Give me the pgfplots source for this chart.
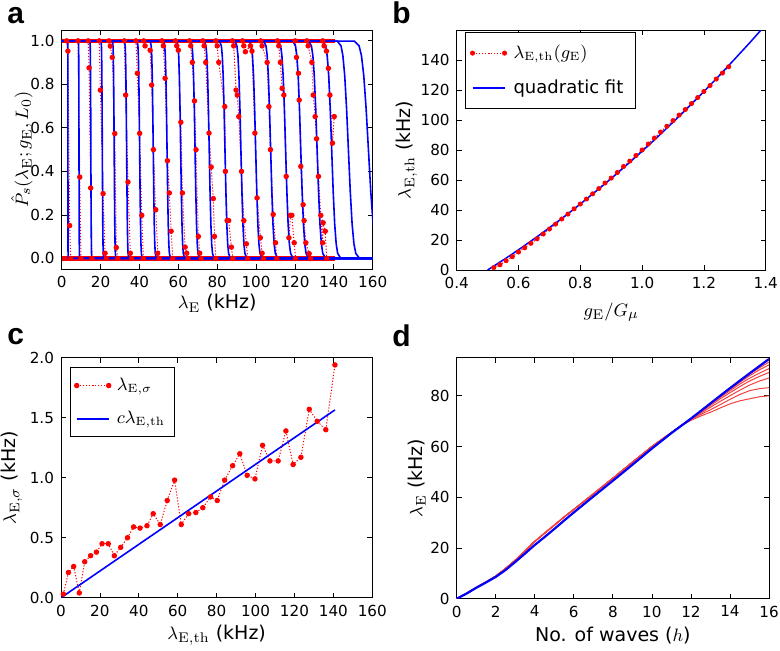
\documentclass[border=0pt]{standalone}
\usepackage[no-math]{fontspec}
\setmainfont{DejaVu Sans}
\newfontfamily\panelfont{Liberation Sans}
\usepackage{pgfplots}
\usepackage{pgfplotstable}
\pgfplotsset{compat=1.18}
\definecolor{mplred}{rgb}{1,0,0}
\definecolor{mplblue}{rgb}{0,0,1}
\definecolor{dred}{rgb}{0.96,0.25,0.25}
\pgfplotsset{
  mpl/.style={
    scale only axis,
    axis line style={line width=0.5pt},
    every tick/.style={black, line width=0.4pt},
    major tick length=2.6pt,
    tick align=inside, tick pos=both,
    ticklabel style={font=\fontsize{7.6}{8.5}\selectfont},
    label style={font=\fontsize{9.5}{11}\selectfont},
    /pgf/number format/assume math mode=true,
    legend cell align=left,
    legend image code/.code={\draw[##1, mark repeat=2, mark phase=1] plot coordinates {(0pt,0pt) (8pt,0pt) (16pt,0pt)};},
  },
  rdots/.style={color=mplred, line width=0.5pt, dash pattern=on 0.6pt off 0.9pt, mark=*, mark size=1.1pt, mark options={solid, fill=mplred, draw=mplred}},
  bline/.style={color=mplblue, line width=0.8pt, mark=none},
  blueleg/.style={legend image code/.code={\draw[color=mplblue, line width=0.8pt, solid] (0pt,0pt) -- (16pt,0pt);}},
}
\pgfplotstableread{
y b1 b2 b3 b4 b5 b6 b7 b8 b9 b10 b11 b12 b13 b14 b15 b16 b17 b18 b19 b20 b21 b22
1 0 0 0 0 0 0 0 0 0 0 0 0 0 0 0 0 0 0 0 0 0 0
0.999 3.09 8.60 14.50 20.20 26.10 32.29 38.77 45.53 52.39 59.16 66.32 73.37 81.20 89.13 96.48 103.92 111.36 118.91 127.02 134.28 141.8 150.6
0.977 3.13 8.70 14.67 20.44 26.40 32.66 39.21 46.05 53.00 59.84 67.08 74.22 82.14 90.15 97.58 105.11 112.64 120.27 128.48 135.82 143.7 153.0
0.933 3.15 8.75 14.75 20.55 26.55 32.84 39.43 46.32 53.30 60.18 67.46 74.64 82.60 90.67 98.14 105.71 113.28 120.95 129.21 136.59 144.65 154.2
0.841 3.16 8.80 14.83 20.67 26.70 33.03 39.66 46.58 53.60 60.52 67.84 75.06 83.07 91.18 98.69 106.31 113.92 121.64 129.94 137.36 145.6 155.4
0.691 3.18 8.85 14.92 20.78 26.85 33.21 39.88 46.84 53.90 60.86 68.22 75.48 83.53 91.69 99.25 106.90 114.56 122.32 130.67 138.13 146.55 156.6
0.5 3.2 8.9 15.0 20.9 27.0 33.4 40.1 47.1 54.2 61.2 68.6 75.9 84.0 92.2 99.8 107.5 115.2 123.0 131.4 138.9 147.5 157.8
0.309 3.22 8.95 15.08 21.02 27.15 33.59 40.32 47.36 54.50 61.54 68.98 76.32 84.47 92.71 100.35 108.10 115.84 123.68 132.13 139.67 148.45 159.0
0.159 3.24 9.00 15.17 21.13 27.30 33.77 40.55 47.62 54.80 61.88 69.36 76.74 84.93 93.22 100.91 108.69 116.48 124.37 132.86 140.44 149.4 160.2
0.067 3.25 9.05 15.25 21.25 27.45 33.96 40.77 47.88 55.10 62.22 69.74 77.16 85.40 93.74 101.46 109.29 117.12 125.05 133.59 141.21 150.35 161.4
0.023 3.27 9.10 15.33 21.36 27.60 34.14 40.99 48.15 55.40 62.56 70.12 77.58 85.86 94.25 102.02 109.89 117.76 125.73 134.32 141.98 151.3 162.6
0.001 3.31 9.20 15.50 21.60 27.90 34.51 41.44 48.67 56.01 63.24 70.88 78.43 86.80 95.27 103.12 111.08 119.04 127.10 135.78 143.53 153.2 165.0
0 165 165 165 165 165 165 165 165 165 165 165 165 165 165 165 165 165 165 165 165 165 165
}\bluetab
\begin{document}
\begin{tikzpicture}
\path[use as bounding box] (0,0) rectangle (390pt,325pt);
\node[anchor=base west, inner sep=0, font=\panelfont\bfseries\fontsize{15}{15}\selectfont] at (3.5pt,313.5pt) {a};
\node[anchor=base west, inner sep=0, font=\panelfont\bfseries\fontsize{15}{15}\selectfont] at (196pt,313.5pt) {b};
\node[anchor=base west, inner sep=0, font=\panelfont\bfseries\fontsize{15}{15}\selectfont] at (3.5pt,153pt) {c};
\node[anchor=base west, inner sep=0, font=\panelfont\bfseries\fontsize{15}{15}\selectfont] at (196pt,152pt) {d};

% ---------------- panel a
\begin{axis}[mpl, at={(30.85pt,190.35pt)}, anchor=south west, width=155.5pt, height=119.65pt,
  xmin=0, xmax=160, ymin=-0.05, ymax=1.05,
  xtick={0,20,40,60,80,100,120,140,160}, ytick={0,0.2,0.4,0.6,0.8,1.0},
  yticklabel style={/pgf/number format/.cd, fixed, fixed zerofill, precision=1},
  xlabel={$\lambda_{\mathrm{E}}$ (kHz)},
  ylabel={$\hat{P}_s(\lambda_{\mathrm{E}}; g_{\mathrm{E}}, L_0)$},
  xlabel style={at={(axis description cs:0.5,-0.142)}, anchor=center},
  ylabel style={at={(axis description cs:-0.128,0.5)}, anchor=center},
]
\addplot[color=mplred, line width=2.2pt, mark=none] coordinates {(0,1) (140.5,1)};
\addplot[color=mplred, line width=2.2pt, mark=none] coordinates {(0,0) (140.5,0)};
\addplot[rdots] coordinates {(2.6,1) (3.2,0.953) (4.1,0.151) (4.6,0)};
\addplot[bline] table[x=b1,y=y] {\bluetab};
\addplot[rdots] coordinates {(8.4,1) (9.3,0.374) (9.9,0)};
\addplot[bline] table[x=b2,y=y] {\bluetab};
\addplot[rdots] coordinates {(13.6,1) (14.1,0.876) (14.9,0.324) (15.6,0)};
\addplot[bline] table[x=b3,y=y] {\bluetab};
\addplot[rdots] coordinates {(19.3,1) (19.9,0.774) (21.3,0.298) (22.3,0.024) (22.9,0)};
\addplot[bline] table[x=b4,y=y] {\bluetab};
\addplot[rdots] coordinates {(24.3,1) (25.0,0.976) (26.0,0.924) (27.3,0.574) (28.1,0.05) (28.8,0)};
\addplot[bline] table[x=b5,y=y] {\bluetab};
\addplot[rdots] coordinates {(32.2,1) (32.9,0.751) (34.1,0.351) (35.3,0.024) (36.0,0)};
\addplot[bline] table[x=b6,y=y] {\bluetab};
\addplot[rdots] coordinates {(38.2,1) (38.9,0.851) (40.1,0.575) (41.2,0.198) (42.0,0)};
\addplot[bline] table[x=b7,y=y] {\bluetab};
\addplot[rdots] coordinates {(42.2,1) (42.9,0.977) (45.5,0.957) (46.3,0.797) (47.2,0.5) (48.4,0.224) (49.4,0.024) (50.1,0)};
\addplot[bline] table[x=b8,y=y] {\bluetab};
\addplot[rdots] coordinates {(51.6,1) (52.3,0.977) (53.2,0.828) (54.4,0.449) (55.4,0.301) (56.3,0.125) (57.1,0)};
\addplot[bline] table[x=b9,y=y] {\bluetab};
\addplot[rdots] coordinates {(58.5,1) (59.2,0.977) (60.0,0.957) (61.3,0.626) (62.1,0.301) (63.5,0.052) (64.3,0.024) (65.0,0)};
\addplot[bline] table[x=b10,y=y] {\bluetab};
\addplot[rdots] coordinates {(65.7,1) (66.4,0.977) (67.2,0.901) (68.3,0.724) (69.1,0.5) (70.3,0.101) (71.0,0.024) (71.7,0)};
\addplot[bline] table[x=b11,y=y] {\bluetab};
\addplot[rdots] coordinates {(72.6,1) (73.3,0.977) (74.1,0.901) (75.8,0.576) (76.9,0.42) (78.0,0.275) (78.6,0.101) (79.3,0)};
\addplot[bline] table[x=b12,y=y] {\bluetab};
\addplot[rdots] coordinates {(79.3,1) (80.0,0.977) (80.8,0.901) (83.9,0.698) (84.2,0.40) (85.1,0.174) (85.9,0.174) (87.3,0.052) (88.0,0)};
\addplot[bline] table[x=b13,y=y] {\bluetab};
\addplot[rdots] coordinates {(87.8,1) (88.5,0.977) (89.7,0.774) (90.3,0.751) (91.1,0.652) (92.5,0.40) (93.7,0.174) (95.0,0.067) (95.7,0)};
\addplot[bline] table[x=b14,y=y] {\bluetab};
\addplot[rdots] coordinates {(93.0,1) (93.7,0.977) (94.5,0.95) (97.1,0.977) (97.9,0.953) (99.4,0.576) (100.5,0.278) (102.2,0.095) (103.1,0.024) (103.8,0)};
\addplot[bline] table[x=b15,y=y] {\bluetab};
\addplot[rdots] coordinates {(102.4,1) (103.1,0.977) (105.7,0.901) (106.6,0.698) (107.4,0.5) (108.8,0.202) (110.0,0.072) (110.7,0)};
\addplot[bline] table[x=b16,y=y] {\bluetab};
\addplot[rdots] coordinates {(111.0,1) (111.7,0.977) (112.5,0.901) (113.4,0.782) (114.3,0.751) (115.5,0.377) (116.9,0.095) (117.7,0.198) (118.4,0.198) (119.6,0.072) (120.3,0)};
\addplot[bline] table[x=b17,y=y] {\bluetab};
\addplot[rdots] coordinates {(120.1,1) (120.8,0.924) (121.8,0.851) (122.2,0.728) (123.0,0.423) (124.2,0.247) (124.7,0.174) (125.6,0.072) (127.3,0.022) (128.0,0)};
\addplot[bline] table[x=b18,y=y] {\bluetab};
\addplot[rdots] coordinates {(126.1,1) (126.8,0.977) (128.7,0.901) (129.4,0.751) (130.4,0.652) (131.1,0.55) (132.1,0.377) (133.3,0.198) (134.2,0.072) (134.5,0.164) (135.6,0.125) (136.3,0)};
\addplot[bline] table[x=b19,y=y] {\bluetab};
\addplot[rdots] coordinates {(134.3,1) (135.0,0.977) (136.2,0.953) (137.2,0.874) (138.0,0.751) (139.3,0.53) (140.2,0.652)};
\addplot[bline] table[x=b20,y=y] {\bluetab};
\addplot[bline] table[x=b21,y=y] {\bluetab};
\addplot[bline] table[x=b22,y=y] {\bluetab};
\end{axis}

% ---------------- panel b
\begin{axis}[mpl, at={(228.35pt,190pt)}, anchor=south west, width=154.5pt, height=120pt,
  xmin=0.4, xmax=1.4, ymin=0, ymax=160,
  xtick={0.4,0.6,0.8,1.0,1.2,1.4}, ytick={0,20,40,60,80,100,120,140},
  xticklabel style={/pgf/number format/.cd, fixed, fixed zerofill, precision=1},
  xlabel={$g_{\mathrm{E}}/G_{\mu}$},
  ylabel={$\lambda_{\mathrm{E,th}}$ (kHz)},
  xlabel style={at={(axis description cs:0.5,-0.175)}, anchor=center},
  ylabel style={at={(axis description cs:-0.162,0.5)}, anchor=center},
  legend style={at={(axis description cs:0.027,0.99)}, anchor=north west, draw=black, line width=0.5pt,
    font=\fontsize{9}{10}\selectfont, inner xsep=2.5pt, inner ysep=4pt, row sep=5pt,
    nodes={inner xsep=3.5pt}},
]
\addplot[rdots, mark size=1pt] coordinates {
(0.52,1.6) (0.54,3.5) (0.56,6.2) (0.58,8.9) (0.60,12.0) (0.62,14.8) (0.64,17.8) (0.66,20.8)
(0.68,24.0) (0.70,27.3) (0.72,30.6) (0.74,34.0) (0.76,37.3) (0.78,40.8) (0.80,44.0) (0.82,47.3)
(0.84,50.8) (0.86,54.3) (0.88,58.0) (0.90,61.3) (0.92,65.0) (0.94,69.0) (0.96,72.6) (0.98,76.3)
(1.00,80.0) (1.02,84.0) (1.04,88.0) (1.06,92.0) (1.08,95.8) (1.10,99.6) (1.12,103.3) (1.14,107.0)
(1.16,111.0) (1.18,115.0) (1.20,119.0) (1.22,123.0) (1.24,127.3) (1.26,131.3) (1.28,135.5)};
\addlegendentry{$\lambda_{\mathrm{E,th}}(g_{\mathrm{E}})$}
\addplot[bline, line width=0.75pt, blueleg] coordinates {
(0.50,0) (0.525,3.3) (0.55,6.6) (0.575,10.0) (0.60,13.5) (0.625,17.1) (0.65,20.7) (0.675,24.4) (0.70,28.2) (0.725,32.0) (0.75,35.9) (0.775,39.9) (0.80,44.0) (0.825,48.2) (0.85,52.4)
(0.875,56.7) (0.90,61.0) (0.925,65.5) (0.95,70.0) (0.975,74.6) (1.00,79.2) (1.025,83.9) (1.05,88.7) (1.075,93.6) (1.10,98.5) (1.125,103.5) (1.15,108.6) (1.175,113.8) (1.20,119.0)
(1.225,124.3) (1.25,129.7) (1.275,135.2) (1.30,140.7) (1.325,146.3) (1.35,151.9) (1.375,157.7) (1.40,163.5)};
\addlegendentry{quadratic fit}
\end{axis}

% ---------------- panel c
\begin{axis}[mpl, at={(30.5pt,26.15pt)}, anchor=south west, width=155.65pt, height=120pt,
  xmin=0, xmax=160, ymin=0, ymax=2.0,
  xtick={0,20,40,60,80,100,120,140,160}, ytick={0,0.5,1.0,1.5,2.0},
  yticklabel style={/pgf/number format/.cd, fixed, fixed zerofill, precision=1},
  xlabel={$\lambda_{\mathrm{E,th}}$ (kHz)},
  ylabel={$\lambda_{\mathrm{E},\sigma}$ (kHz)},
  xlabel style={at={(axis description cs:0.5,-0.156)}, anchor=center},
  ylabel style={at={(axis description cs:-0.158,0.5)}, anchor=center},
  legend style={at={(axis description cs:0.029,0.96)}, anchor=north west, draw=black, line width=0.5pt,
    font=\fontsize{9}{10}\selectfont, inner xsep=2pt, inner ysep=3pt, row sep=5pt,
    nodes={inner xsep=3pt}},
]
\addplot[rdots] coordinates {
(1.2,0.03) (3.8,0.21) (6.5,0.26) (9.4,0.04) (12.2,0.30) (15.2,0.35) (18.2,0.38) (21.1,0.45)
(24.3,0.45) (27.4,0.35) (30.7,0.42) (34.2,0.50) (37.3,0.59) (40.6,0.58) (44.2,0.60) (47.4,0.70)
(51.0,0.61) (54.6,0.81) (58.4,0.98) (61.8,0.61) (65.6,0.70) (69.3,0.71) (72.9,0.75) (76.9,0.84)
(80.3,0.81) (84.1,0.98) (88.2,1.10) (91.9,1.20) (95.7,1.02) (99.7,0.99) (103.6,1.27) (107.4,1.14)
(111.6,1.14) (115.6,1.39) (119.3,1.11) (123.3,1.17) (127.6,1.57) (131.7,1.47) (136.1,1.40) (140.8,1.94)};
\addlegendentry{$\lambda_{\mathrm{E},\sigma}$}
\addplot[bline, blueleg] coordinates {(0,0) (140.8,1.565)};
\addlegendentry{$c\lambda_{\mathrm{E,th}}$}
\end{axis}

% ---------------- panel d
\begin{axis}[mpl, at={(228.35pt,25.65pt)}, anchor=south west, width=156.15pt, height=120.5pt,
  xmin=0, xmax=16, ymin=0, ymax=95,
  xtick={0,2,4,6,8,10,12,14,16}, ytick={0,20,40,60,80},
  xlabel={No. of waves ($h$)},
  ylabel={$\lambda_{\mathrm{E}}$ (kHz)},
  xlabel style={at={(axis description cs:0.5,-0.152)}, anchor=center},
  ylabel style={at={(axis description cs:-0.128,0.5)}, anchor=center},
]
\pgfplotsset{rline/.style={color=dred, line width=0.5pt, mark=none}}
\addplot[rline] coordinates {(0,0) (0.5,2.1) (1,4.4) (1.5,6.6) (2,8.9) (2.5,11.9) (3,15.2) (3.5,18.8) (4,22.6) (4.5,25.8) (5,29) (5.5,32.2) (6,35.2) (7,41.3) (8,47.5) (9,53.8) (10,60) (11,65.5) (11.5,68.2)
 (12,70.3) (12.5,72.0) (13,73.5) (13.5,75.2) (14,76.8) (14.5,78.0) (15,78.8) (15.5,79.6) (16,80.0)};
\addplot[rline] coordinates {(0,0) (0.5,2.1) (1,4.4) (1.5,6.6) (2,8.9) (2.5,11.9) (3,15.2) (3.5,18.8) (4,22.6) (4.5,25.8) (5,29) (5.5,32.2) (6,35.2) (7,41.3) (8,47.5) (9,53.8) (10,60) (11,65.5) (11.5,68.2)
 (12,70.6) (12.5,72.6) (13,74.5) (13.5,76.5) (14,78.6) (14.5,80.5) (15,82.0) (15.5,82.8) (16,83.2)};
\addplot[rline] coordinates {(0,0) (0.5,2.1) (1,4.4) (1.5,6.6) (2,8.9) (2.5,11.9) (3,15.2) (3.5,18.8) (4,22.6) (4.5,25.8) (5,29) (5.5,32.2) (6,35.2) (7,41.3) (8,47.5) (9,53.8) (10,60) (11,65.5) (11.5,68.2)
 (12,70.8) (12.5,73.1) (13,75.5) (13.5,77.8) (14,80.0) (14.5,82.2) (15,84.2) (15.5,85.8) (16,87.0)};
\addplot[rline] coordinates {(0,0) (0.5,2.1) (1,4.4) (1.5,6.6) (2,8.9) (2.5,11.9) (3,15.2) (3.5,18.8) (4,22.6) (4.5,25.8) (5,29) (5.5,32.2) (6,35.2) (7,41.3) (8,47.5) (9,53.8) (10,60) (11,65.5) (11.5,68.2)
 (12,71.0) (12.5,73.5) (13,76.2) (13.5,78.8) (14,81.2) (14.5,83.6) (15,85.8) (15.5,87.6) (16,89.2)};
\addplot[rline] coordinates {(0,0) (0.5,2.1) (1,4.4) (1.5,6.6) (2,8.9) (2.5,11.9) (3,15.2) (3.5,18.8) (4,22.6) (4.5,25.8) (5,29) (5.5,32.2) (6,35.2) (7,41.3) (8,47.5) (9,53.8) (10,60) (11,65.5) (11.5,68.2)
 (12,71.0) (12.5,73.8) (13,76.7) (13.5,79.4) (14,82.0) (14.5,84.6) (15,86.9) (15.5,88.9) (16,90.7)};
\addplot[rline] coordinates {(0,0) (0.5,2.1) (1,4.4) (1.5,6.6) (2,8.9) (2.5,11.9) (3,15.2) (3.5,18.8) (4,22.6) (4.5,25.8) (5,29) (5.5,32.2) (6,35.2) (7,41.3) (8,47.5) (9,53.8) (10,60) (11,65.5) (11.5,68.2)
 (12,71.0) (12.5,74.0) (13,77.0) (13.5,79.8) (14,82.6) (14.5,85.3) (15,87.9) (15.5,90.2) (16,92.2)};
\addplot[rline] coordinates {(0,0) (0.5,2.1) (1,4.4) (1.5,6.6) (2,8.9) (2.5,11.9) (3,15.2) (3.5,18.8) (4,22.6) (4.5,25.8) (5,29) (5.5,32.2) (6,35.2) (7,41.3) (8,47.5) (9,53.8) (10,60) (11,65.5) (11.5,68.2)
 (12,71.0) (12.5,74.0) (13,77.1) (13.5,80.0) (14,82.9) (14.5,85.8) (15,88.5) (15.5,91.0) (16,93.3)};
\addplot[rline] coordinates {(0,0) (0.5,2.1) (1,4.4) (1.5,6.6) (2,8.9) (2.5,11.9) (3,15.2) (3.5,18.8) (4,22.6) (4.5,25.8) (5,29) (5.5,32.2) (6,35.2) (7,41.3) (8,47.5) (9,53.8) (10,60) (11,65.5) (11.5,68.2)
 (12,71.0) (12.5,74.0) (13,77.2) (13.5,80.2) (14,83.1) (14.5,86.1) (15,89.0) (15.5,91.8) (16,94.2)};
\addplot[color=mplblue, line width=1.1pt, mark=none] coordinates {(0,0) (0.5,2.0) (1,4.3) (1.5,6.4) (2,8.6) (2.5,11.3) (3,14.5) (3.5,17.8) (4,21.2) (4.5,24.3) (5,27.5) (5.5,30.8) (6,34.0) (7,40.3) (8,46.5) (9,52.8) (10,59.2) (11,65.3) (12,71.0) (13,77.0) (14,83.0) (15,88.8) (16,94.5)};
\end{axis}
\end{tikzpicture}
\end{document}
